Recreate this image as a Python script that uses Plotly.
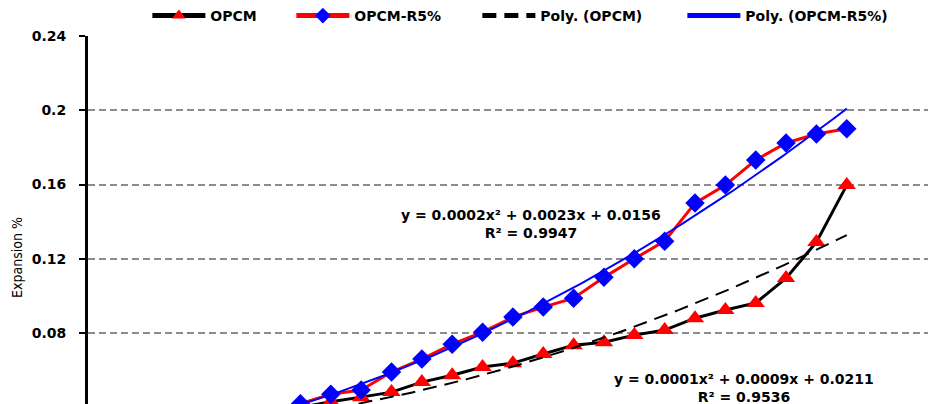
import numpy as np
import plotly.graph_objects as go

# Time index (x used by the trend-line equations)
x_idx = list(range(1, 26))

# OPCM expansion % (lower values fall below the visible window)
opcm = [0.020, 0.024, 0.027, 0.030, 0.034, 0.037, 0.040, 0.043,
        0.0455, 0.0482, 0.0536, 0.0573, 0.0617, 0.0638, 0.0687, 0.0735,
        0.0751, 0.0789, 0.0816, 0.0880, 0.0924, 0.0962, 0.1096, 0.1290, 0.1597]

# OPCM-R5% expansion %
opcm_r5 = [0.017, 0.022, 0.025, 0.027, 0.033, 0.036, 0.042, 0.0471,
           0.0493, 0.0590, 0.0660, 0.0740, 0.0805, 0.0886, 0.0940, 0.0988,
           0.1100, 0.1200, 0.1295, 0.1500, 0.1597, 0.1732, 0.1824, 0.1872, 0.1900]

y_ticks = [0.04, 0.08, 0.12, 0.16, 0.2, 0.24]
y_tick_text = ["0.04", "0.08", "0.12", "0.16", "0.2", "0.24"]

eq_r5 = "y = 0.0002x\u00b2 + 0.0023x + 0.0156<br>R\u00b2 = 0.9947"
eq_opcm = "y = 0.0001x\u00b2 + 0.0009x + 0.0211<br>R\u00b2 = 0.9536"

FONT = "DejaVu Sans"
BOLD = dict(family=FONT, size=14, color="black", weight="bold")

# Polynomial (order 2) trend lines fitted to the series
xs = np.array(x_idx, dtype=float)
xf = np.linspace(xs.min(), xs.max(), 200)
fit_opcm = np.polyval(np.polyfit(xs, opcm, 2), xf)
fit_r5 = np.polyval(np.polyfit(xs, opcm_r5, 2), xf)

fig = go.Figure()
fig.add_trace(go.Scatter(
    x=x_idx, y=opcm, name="OPCM", mode="lines+markers", legendwidth=76,
    line=dict(color="black", width=3),
    marker=dict(symbol="triangle-up", color="red", size=16, line=dict(width=0))))
fig.add_trace(go.Scatter(
    x=x_idx, y=opcm_r5, name="OPCM-R5%", mode="lines+markers", legendwidth=118,
    line=dict(color="red", width=3),
    marker=dict(symbol="diamond", color="blue", size=15, line=dict(width=0))))
fig.add_trace(go.Scatter(
    x=xf, y=fit_opcm, name="Poly. (OPCM)", mode="lines", legendwidth=137,
    line=dict(color="black", width=2, dash="14px,8px")))
fig.add_trace(go.Scatter(
    x=xf, y=fit_r5, name="Poly. (OPCM-R5%)", mode="lines", legendwidth=154,
    line=dict(color="blue", width=2)))

fig.add_annotation(x=14.6, y=0.1387, xref="x", yref="y", text=eq_r5,
                   showarrow=False, xanchor="center", yanchor="middle",
                   font=BOLD)
fig.add_annotation(x=21.6, y=0.0504, xref="x", yref="y", text=eq_opcm,
                   showarrow=False, xanchor="center", yanchor="middle",
                   font=BOLD)

fig.add_annotation(x=-0.0837, y=0.397, xref="paper", yref="paper",
                   text="Expansion %", textangle=-90, showarrow=False,
                   xanchor="center", yanchor="middle",
                   font=dict(family="DejaVu Sans Condensed, Liberation Sans", size=14, color="black"))

# page body adds an 8px offset; figure is sized to end at the window edge
fig.update_layout(
    width=928, height=396,
    margin=dict(l=80, r=0, t=28, b=0, autoexpand=False),
    plot_bgcolor="white", paper_bgcolor="white",
    font=dict(family=FONT, size=14, color="black"),
    showlegend=True,
    legend=dict(orientation="h", x=0.07, xanchor="left", y=1.0543, yanchor="middle",
                font=BOLD, itemwidth=53, itemsizing="constant",
                bgcolor="rgba(0,0,0,0)"),
)
fig.update_xaxes(range=[0, 27.94], visible=False)
fig.update_yaxes(range=[0.0418, 0.24], tickvals=y_ticks, ticktext=y_tick_text,
                 showgrid=True, gridcolor="#8c8c8c", griddash="7px,4px", gridwidth=1.5,
                 showline=True, linecolor="black", linewidth=3,
                 ticks="outside", ticklen=6, tickwidth=2, tickcolor="black",
                 ticklabelstandoff=10, zeroline=False,
                 tickfont=BOLD)

fig.write_html("out.html")
